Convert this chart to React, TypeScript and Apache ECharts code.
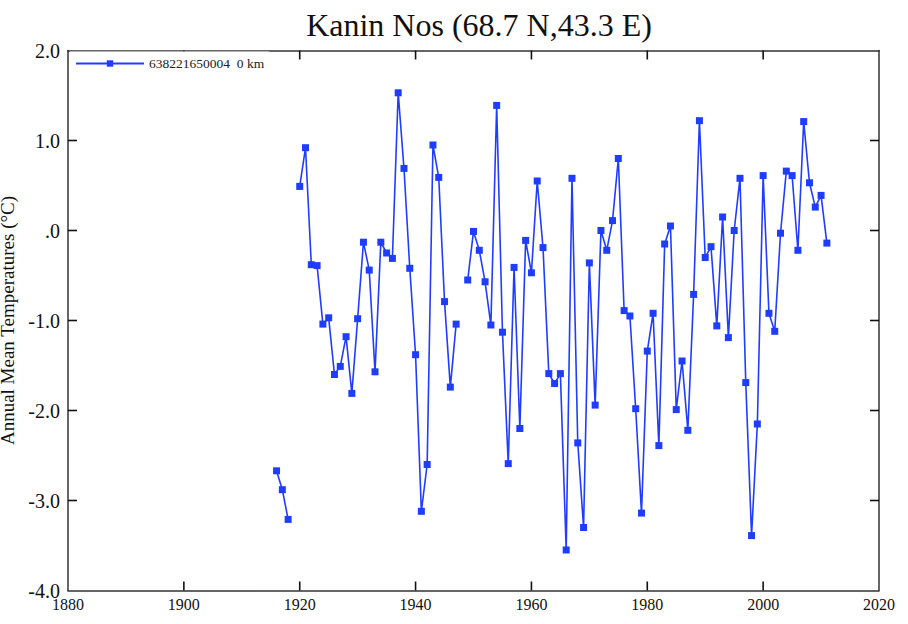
import React, { useEffect, useRef } from "react";
import * as echarts from "echarts";

const title = "Kanin Nos (68.7 N,43.3 E)";
const seriesName = "638221650004  0 km";
const yAxisTitle = "Annual Mean Temperatures (°C)";

const years: number[] = [
  1916, 1917, 1918, 1919, 1920, 1921, 1922, 1923, 1924, 1925, 1926, 1927, 1928, 1929,
  1930, 1931, 1932, 1933, 1934, 1935, 1936, 1937, 1938, 1939, 1940, 1941, 1942, 1943,
  1944, 1945, 1946, 1947, 1948, 1949, 1950, 1951, 1952, 1953, 1954, 1955, 1956, 1957,
  1958, 1959, 1960, 1961, 1962, 1963, 1964, 1965, 1966, 1967, 1968, 1969, 1970, 1971,
  1972, 1973, 1974, 1975, 1976, 1977, 1978, 1979, 1980, 1981, 1982, 1983, 1984, 1985,
  1986, 1987, 1988, 1989, 1990, 1991, 1992, 1993, 1994, 1995, 1996, 1997, 1998, 1999,
  2000, 2001, 2002, 2003, 2004, 2005, 2006, 2007, 2008, 2009, 2010, 2011,
];

const temps: (number | null)[] = [
  -2.67, -2.88, -3.21, null, 0.49, 0.92, -0.38, -0.39, -1.04, -0.97, -1.6, -1.51, -1.18, -1.81,
  -0.98, -0.13, -0.44, -1.57, -0.13, -0.25, -0.31, 1.53, 0.69, -0.42, -1.38, -3.12, -2.6, 0.95,
  0.59, -0.79, -1.74, -1.04, null, -0.55, -0.01, -0.22, -0.57, -1.05, 1.39, -1.13, -2.59, -0.41,
  -2.2, -0.11, -0.47, 0.55, -0.19, -1.59, -1.7, -1.59, -3.55, 0.58, -2.36, -3.3, -0.36, -1.94,
  0.0, -0.22, 0.11, 0.8, -0.89, -0.95, -1.98, -3.14, -1.34, -0.92, -2.39, -0.15, 0.05, -1.99,
  -1.45, -2.22, -0.71, 1.22, -0.3, -0.18, -1.06, 0.15, -1.19, -0.0, 0.58, -1.69, -3.39, -2.15,
  0.61, -0.92, -1.12, -0.03, 0.66, 0.61, -0.22, 1.21, 0.53, 0.26, 0.39, -0.14,
];

const xMin = 1880;
const xMax = 2020;
const xStep = 20;
const yMin = -4;
const yMax = 2;
const yStep = 1;

const xTickValues: number[] = [1900, 1920, 1940, 1960, 1980, 2000];
const yTickValues: number[] = [1, 0, -1, -2, -3];

const serif = "'Liberation Serif', 'DejaVu Serif', serif";
const blue = "#1f3dff";
const axisColor = "#333333";
const tickLen = 9;

const makeLine = () => ({ show: true, onZero: false, lineStyle: { color: axisColor, width: 1.5 } });

export default function App() {
  const ref = useRef<HTMLDivElement>(null);

  useEffect(() => {
    if (!ref.current) return;
    const chart = echarts.init(ref.current, undefined, { renderer: "svg" });
    const data = years.map((y, i) => [y, temps[i] === null ? "-" : temps[i]]);

    const yFmt = (v: number) => (v === 0 ? ".0" : v.toFixed(1));
    const tickStyle = { stroke: "#111111", lineWidth: 1.6 };

    chart.setOption({
      animation: false,
      backgroundColor: "#ffffff",
      title: {
        text: title,
        left: 474,
        textAlign: "center",
        top: 4,
        textStyle: { fontFamily: serif, fontSize: 32, fontWeight: "normal", color: "#111" },
      },
      legend: {
        show: true,
        left: 70,
        top: 51.5,
        z: 10,
        backgroundColor: "#ffffff",
        itemWidth: 68,
        itemHeight: 8,
        itemGap: 4,
        textStyle: { fontFamily: serif, fontSize: 13.5, color: "#222" },
        data: [seriesName],
      },
      grid: {
        left: 68,
        right: 29,
        top: 50.5,
        bottom: 33.5,
        containLabel: false,
        outerBoundsMode: "none",
      },
      xAxis: [
        {
          type: "value",
          min: xMin,
          max: xMax,
          interval: xStep,
          position: "bottom",
          axisLine: makeLine(),
          axisTick: { show: false },
          splitLine: { show: false },
          axisLabel: {
            fontFamily: serif,
            fontSize: 16,
            color: "#111",
            margin: 6,
            formatter: (v: number) => String(v),
          },
        },
        {
          type: "value",
          min: xMin,
          max: xMax,
          interval: xStep,
          position: "top",
          axisLine: makeLine(),
          axisTick: { show: false },
          splitLine: { show: false },
          axisLabel: { show: false },
        },
      ],
      yAxis: [
        {
          type: "value",
          min: yMin,
          max: yMax,
          interval: yStep,
          position: "left",
          axisLine: makeLine(),
          axisTick: { show: false },
          splitLine: { show: false },
          name: yAxisTitle,
          nameLocation: "middle",
          nameGap: 39,
          nameRotate: 90,
          nameTextStyle: { fontFamily: serif, fontSize: 19, color: "#111" },
          axisLabel: { fontFamily: serif, fontSize: 20, color: "#111", margin: 8, formatter: yFmt },
        },
        {
          type: "value",
          min: yMin,
          max: yMax,
          interval: yStep,
          position: "right",
          axisLine: makeLine(),
          axisTick: { show: false },
          splitLine: { show: false },
          axisLabel: { show: false },
        },
      ],
      series: [
        {
          name: seriesName,
          type: "line",
          xAxisIndex: 0,
          yAxisIndex: 0,
          data,
          connectNulls: false,
          symbol: "rect",
          symbolSize: 7,
          showSymbol: true,
          lineStyle: { color: blue, width: 1.6 },
          itemStyle: { color: blue },
        },
        {
          name: "xTicks",
          type: "custom",
          xAxisIndex: 0,
          yAxisIndex: 0,
          silent: true,
          clip: false,
          z: 5,
          data: xTickValues.map((v) => [v, yMin]),
          encode: { x: 0, y: 1 },
          renderItem: (_params: any, api: any) => {
            const x = api.coord([api.value(0), yMin])[0];
            const yb = api.coord([xMin, yMin])[1];
            const yt = api.coord([xMin, yMax])[1];
            return {
              type: "group",
              children: [
                { type: "line", shape: { x1: x, y1: yb, x2: x, y2: yb - tickLen }, style: tickStyle },
                { type: "line", shape: { x1: x, y1: yt, x2: x, y2: yt + tickLen }, style: tickStyle },
              ],
            };
          },
        },
        {
          name: "yTicks",
          type: "custom",
          xAxisIndex: 0,
          yAxisIndex: 0,
          silent: true,
          clip: false,
          z: 5,
          data: yTickValues.map((v) => [xMin, v]),
          encode: { x: 0, y: 1 },
          renderItem: (_params: any, api: any) => {
            const y = api.coord([xMin, api.value(1)])[1];
            const xl = api.coord([xMin, yMin])[0];
            const xr = api.coord([xMax, yMin])[0];
            return {
              type: "group",
              children: [
                { type: "line", shape: { x1: xl, y1: y, x2: xl + tickLen, y2: y }, style: tickStyle },
                { type: "line", shape: { x1: xr, y1: y, x2: xr - tickLen, y2: y }, style: tickStyle },
              ],
            };
          },
        },
      ],
    });

    return () => chart.dispose();
  }, []);

  return (
    <div
      ref={ref}
      style={{ position: "fixed", left: 0, top: 0, width: 908, height: 624 }}
    />
  );
}
